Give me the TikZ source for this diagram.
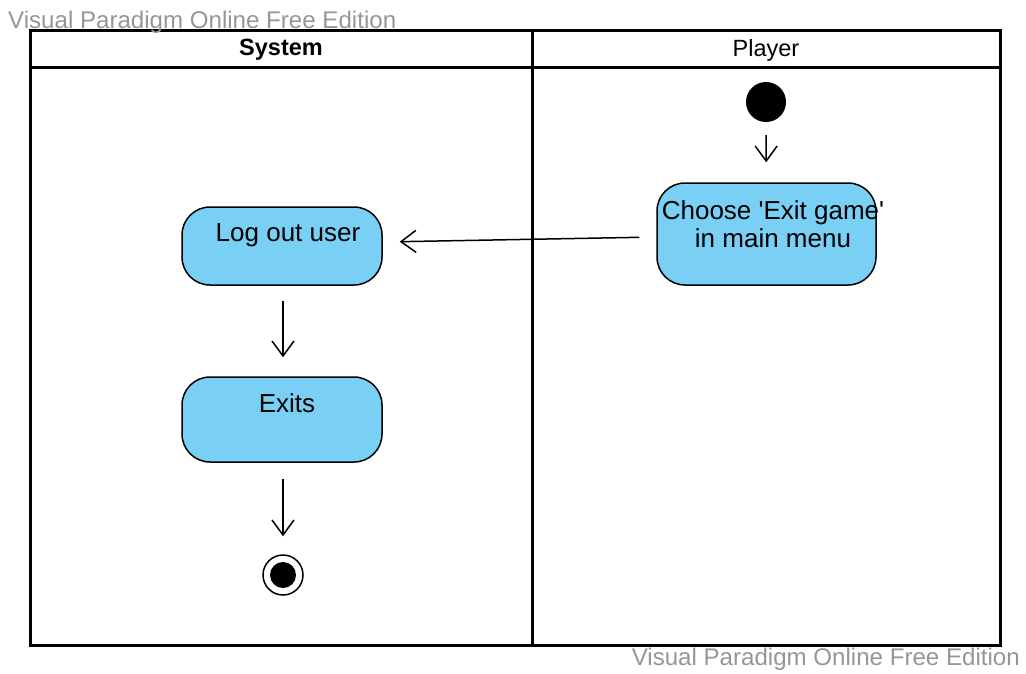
\documentclass[tikz,border=0pt]{standalone}
\usepackage{fontspec}
\setmainfont{Liberation Sans}
\usetikzlibrary{arrows.meta}
\definecolor{actfill}{RGB}{122,207,244}
\definecolor{wmgray}{RGB}{150,150,150}
\begin{document}
\begin{tikzpicture}[x=1pt,y=-1pt,
  pool/.style={line width=3pt,draw=black},
  action/.style={draw=black,line width=1.5pt,fill=actfill,rounded corners=28pt,inner sep=0pt},
  acttext/.style={font=\fontsize{26}{28}\selectfont,align=center,inner sep=0pt,anchor=north},
  flow/.style={line width=1.5pt,-{Straight Barb[length=15pt,width=22pt,line width=1.5pt]}},
  header/.style={font=\fontsize{23.5}{26}\selectfont,inner sep=0pt},
  watermark/.style={font=\fontsize{24.1}{27}\selectfont,text=wmgray,inner sep=0pt}
]
\useasboundingbox (0,0) rectangle (1026,673);

% swimlane frame
\draw[pool] (30,30) rectangle (1000,645);
\draw[pool] (30,67) -- (1000,67);
\draw[pool] (532,30) -- (532,645);
\node[header,font=\fontsize{23.5}{26}\selectfont\bfseries] (hsys) at (281,50) {System};
\node[header] (hplay) at (766,50) {Player};

% initial and final states
\node[circle,fill=black,minimum size=40pt,inner sep=0pt] (start) at (766,102) {};
\node[circle,draw=black,line width=1.5pt,fill=white,minimum size=40pt,inner sep=0pt] (final) at (283,575) {};
\node[circle,fill=black,minimum size=26pt,inner sep=0pt] (finaldot) at (283,575) {};

% actions
\node[action,minimum width=219pt,minimum height=102pt] (choose) at (766.5,234) {};
\node[acttext] (choosetxt) at (773,200) {Choose \textquotesingle Exit game\textquotesingle\\in main menu};
\node[action,minimum width=200pt,minimum height=78pt] (logout) at (282,246) {};
\node[acttext] (logouttxt) at (288,223) {Log out user};
\node[action,minimum width=200pt,minimum height=85pt] (exits) at (282,419.5) {};
\node[acttext] (exitstxt) at (287,393) {Exits};

% control flows
\draw[flow,shorten <=13pt,shorten >=20pt] (start) -- (choose);
\draw[flow,shorten <=17pt,shorten >=17pt] ([yshift=-3pt]choose.west) -- ([yshift=4pt]logout.east);
\draw[flow,shorten <=15pt,shorten >=19pt] ([xshift=1pt]logout.south) -- ([xshift=1pt]exits.north);
\draw[flow,shorten <=16pt,shorten >=18pt] ([xshift=1pt]exits.south) -- (final);

% edition notices
\node[watermark,anchor=west] (wmtop) at (8,22) {Visual Paradigm Online Free Edition};
\node[watermark,anchor=east] (wmbot) at (1020,659) {Visual Paradigm Online Free Edition};
\end{tikzpicture}
\end{document}
